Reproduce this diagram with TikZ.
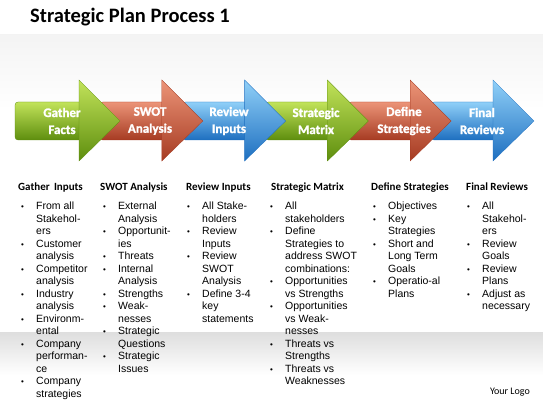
\documentclass[tikz,border=0pt]{standalone}
\usepackage{fontspec}
\setmainfont{Liberation Sans}
\newfontfamily\calibri{Carlito}
\newfontfamily\arrfont{Carlito}[BoldFeatures={FakeBold=1.6}]

\definecolor{grnlt}{HTML}{C2E35A}
\definecolor{grnmd}{HTML}{8DC21F}
\definecolor{grndk}{HTML}{5E8E0E}
\definecolor{redlt}{HTML}{EC9478}
\definecolor{redmd}{HTML}{D4583A}
\definecolor{reddk}{HTML}{A63B22}
\definecolor{blult}{HTML}{90D0F8}
\definecolor{blumd}{HTML}{40A2EA}
\definecolor{bludk}{HTML}{1E6FC0}

\newcommand\bul{\makebox[15pt][l]{\footnotesize\textbullet}}
\newcommand\ind{\hspace*{15pt}}

\tikzset{
	arrbody/.style={top color=#1lt, middle color=#1md, bottom color=#1dk, draw=#1dk, line width=0.3pt, rounded corners=3pt},
	arrhead/.style={top color=#1lt, middle color=#1md, bottom color=#1dk, draw=#1dk, line width=0.3pt},
	arrlabel/.style={text=white, align=center, inner sep=0pt, font=\arrfont\bfseries\fontsize{13}{17}\selectfont},
	colhead/.style={anchor=base west, inner sep=0pt, font=\calibri\bfseries\fontsize{11}{13}\selectfont},
	collist/.style={anchor=north west, inner sep=0pt, align=left, font=\fontsize{10.5}{12.5}\selectfont}
}

\begin{document}
\begin{tikzpicture}[x=1pt, y=-1pt]
	\useasboundingbox (0,0) rectangle (543,403);
	\fill [white] (0,0) rectangle (543,403);
	
	% background bands
	\shade [top color=gray!9, bottom color=white] (0,35) rectangle (543,110);
	\shade [top color=gray!26, bottom color=white] (0,332) rectangle (543,375);
	
	\node [anchor=base west, inner sep=0pt, font=\calibri\bfseries\fontsize{20.5}{24}\selectfont] (title) at (30,23) {Strategic Plan Process 1};
	
	% arrows, right to left so each head lies over the next body
	\foreach \i/\c in {5/blu,4/red,3/grn,2/blu,1/red,0/grn}{
		\pgfmathsetmacro\bx{79+82.8*\i}
		\pgfmathsetmacro\lx{\i==0 ? 15 : \bx-62}
		\path [arrbody=\c] (\lx,102) rectangle (\bx+4,140);
		\path [arrhead=\c] (\bx,80) -- (\bx+41,121) -- (\bx,161) -- cycle;
	}
	
	\foreach \i/\x/\t in {0/62/{Gather\\Facts}, 1/150/{SWOT\\Analysis}, 2/229/{Review\\Inputs},
		3/316/{Strategic\\Matrix}, 4/404/{Define\\Strategies}, 5/482/{Final\\Reviews}}
		\node [arrlabel] (lbl\i) at (\x,121) {\t};
	
	% columns
	\node [colhead] (hd1) at (18,191) {Gather\, Inputs};
	\node [colhead] (hd2) at (100,191) {SWOT Analysis};
	\node [colhead] (hd3) at (186,191) {Review Inputs};
	\node [colhead] (hd4) at (271,191) {Strategic Matrix};
	\node [colhead] (hd5) at (371,191) {Define Strategies};
	\node [colhead] (hd6) at (466,191) {Final Reviews};
	
	\node [collist] (ls1) at (21,202) {\bul From all\\ \ind Stakehol-\\ \ind ers\\
		\bul Customer\\ \ind analysis\\ \bul Competitor\\ \ind analysis\\
		\bul Industry\\ \ind analysis\\ \bul Environm-\\ \ind ental\\
		\bul Company\\ \ind performan-\\ \ind ce\\ \bul Company\\ \ind strategies};
	\node [collist] (ls2) at (103,202) {\bul External\\ \ind Analysis\\
		\bul Opportunit-\\ \ind ies\\ \bul Threats\\ \bul Internal\\ \ind Analysis\\
		\bul Strengths\\ \bul Weak-\\ \ind nesses\\ \bul Strategic\\ \ind Questions\\
		\bul Strategic\\ \ind Issues};
	\node [collist] (ls3) at (187,202) {\bul All Stake-\\ \ind holders\\
		\bul Review\\ \ind Inputs\\ \bul Review\\ \ind SWOT\\ \ind Analysis\\
		\bul Define 3-4\\ \ind key\\ \ind statements};
	\node [collist] (ls4) at (270,202) {\bul All\\ \ind stakeholders\\
		\bul Define\\ \ind Strategies to\\ \ind address SWOT\\ \ind combinations:\\
		\bul Opportunities\\ \ind vs Strengths\\ \bul Opportunities\\ \ind vs Weak-\\ \ind nesses\\
		\bul Threats vs\\ \ind Strengths\\ \bul Threats vs\\ \ind Weaknesses};
	\node [collist] (ls5) at (373,202) {\bul Objectives\\ \bul Key\\ \ind Strategies\\
		\bul Short and\\ \ind Long Term\\ \ind Goals\\ \bul Operatio-al\\ \ind Plans};
	\node [collist] (ls6) at (467,202) {\bul All\\ \ind Stakehol-\\ \ind ers\\
		\bul Review\\ \ind Goals\\ \bul Review\\ \ind Plans\\ \bul Adjust as\\ \ind necessary};
	
	\node [anchor=base east, inner sep=0pt, font=\calibri\fontsize{10}{12}\selectfont] (logo) at (530,394) {Your Logo};
\end{tikzpicture}
\end{document}
